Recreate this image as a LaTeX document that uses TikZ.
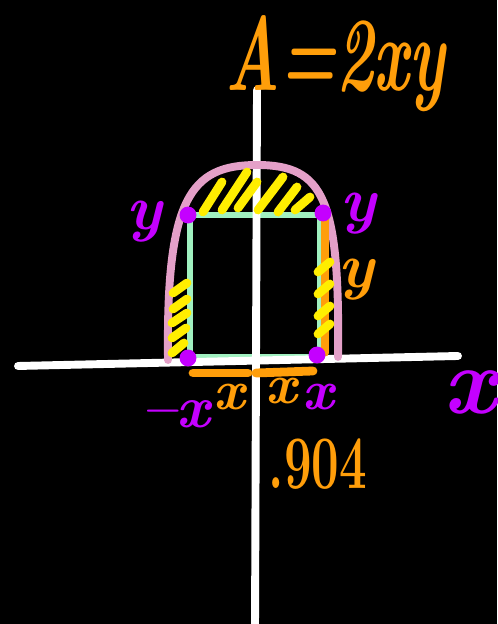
\documentclass[tikz,border=0pt]{standalone}
\usepackage{fontspec}
\definecolor{chalkorange}{RGB}{255,158,10}
\definecolor{chalkpurple}{RGB}{196,0,255}
\definecolor{chalkpink}{RGB}{228,160,200}
\definecolor{chalkmint}{RGB}{160,240,192}
\definecolor{chalkyellow}{RGB}{255,238,0}
\newcommand{\hand}[1]{\fontsize{#1}{#1}\selectfont\bfseries\itshape}

\begin{document}
\begin{tikzpicture}[x=0.02cm,y=0.02cm,line cap=round,line join=round,
    axis/.style={white,line width=4.5pt},
    hatch/.style={chalkyellow,line width=5pt},
    lbl/.style={inner sep=0pt}]
    \fill[black] (0,0) rectangle (497,624);
    \useasboundingbox (0,0) rectangle (497,624);
    \coordinate (tl) at (188,409);
    \coordinate (tr) at (323,411);
    \coordinate (bl) at (188,266);
    \coordinate (br) at (317,269);
    \draw[chalkmint,line width=3.5pt](190,267)rectangle(320,409);
    \coordinate (top) at (257,534);
    \coordinate (bottom) at (255,-5);
    \coordinate (left) at (18,258);
    \coordinate (right) at (458,268);
    \draw[axis](left)--(right);
    \draw[axis](top)--(bottom);
    \draw[chalkpink,line width=4.5pt](168,264)..controls(166,425)and(190,459)..(257,459)..controls(324,459)and(340,425)..(338,267);
    \draw[chalkorange,line width=4pt](325,404)--(325,271);
    \draw[chalkorange,line width=5pt](193,251)--(248,251);
    \draw[chalkorange,line width=5pt](256,251)--(313,253);
    \foreach \a/\b/\c/\d in {203/412/222/442, 222/414/247/452, 238/416/257/442, 258/414/283/447, 278/412/297/437, 295/414/310/427,
        173/331/187/341, 173/315/187/325, 172/301/187/311, 172/286/186/296, 172/271/184/281,
        318/352/330/362, 318/330/330/340, 318/308/330/318, 318/290/330/300}
        \draw[hatch](\a,\b)--(\c,\d);
    \foreach \p in {tl,tr,bl,br}
        \fill[chalkpurple](\p)circle[radius=4.8pt];
    \node[lbl,text=chalkorange,font=\hand{60}](area) at (335,560){\scalebox{0.6}[1]{A=2xy}};
    \node[lbl,text=chalkpurple,font=\hand{36}](yleft) at (144,402){y};
    \node[lbl,text=chalkpurple,font=\hand{36}](yright) at (358,410){y};
    \node[lbl,text=chalkorange,font=\hand{36}](yside) at (356,344){y};
    \node[lbl,text=chalkpurple,font=\hand{34}](negx) at (176,210){–x};
    \node[lbl,text=chalkorange,font=\hand{32}](xleft) at (229,227){x};
    \node[lbl,text=chalkorange,font=\hand{32}](xright) at (281,233){x};
    \node[lbl,text=chalkpurple,font=\hand{32}](xtr) at (318,227){x};
    \node[lbl,text=chalkpurple,font=\hand{54},anchor=east](xaxis) at (497,232){x};
    \node[lbl,text=chalkorange,font=\fontsize{43}{43}\selectfont\bfseries](val) at (318,160){\scalebox{0.65}[1]{.904}};
\end{tikzpicture}
\end{document}
